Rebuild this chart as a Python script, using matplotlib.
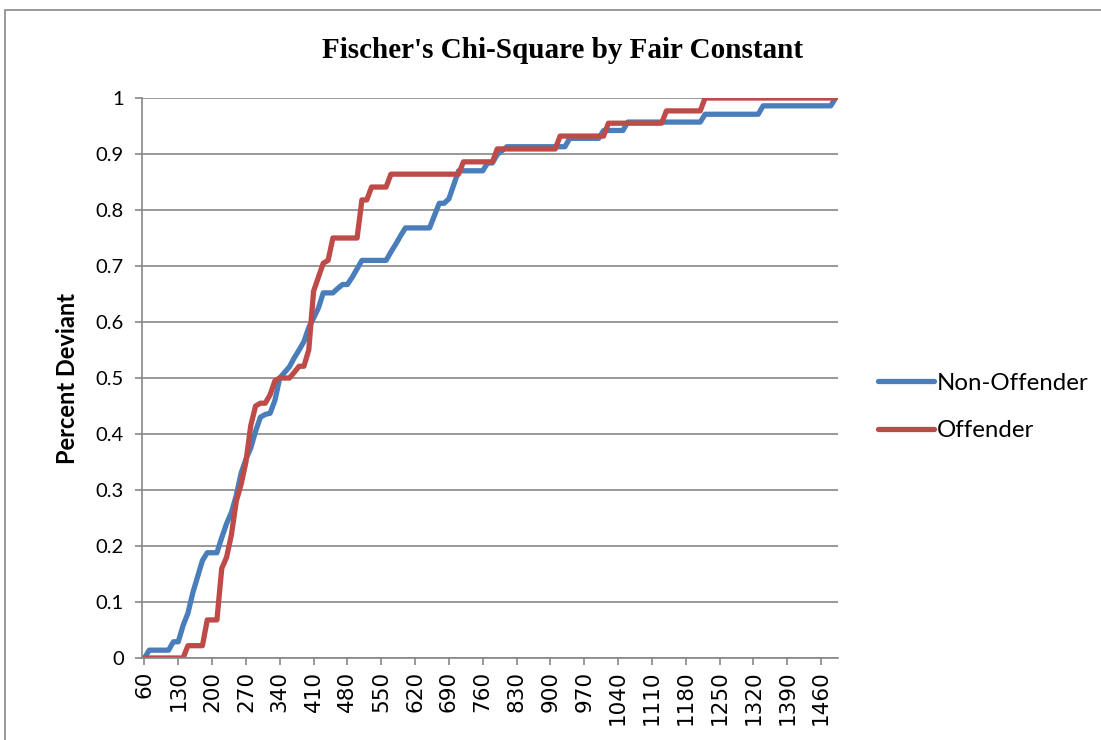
import matplotlib
matplotlib.use("Agg")
import matplotlib.pyplot as plt
from matplotlib.patches import Rectangle

# categories 60..1490 step 10, labels every 7th
categories = list(range(60, 1500, 10))

non_offender = [
    0, 0.014, 0.014, 0.014, 0.014, 0.014, 0.029, 0.029, 0.058, 0.08,
    0.116, 0.145, 0.174, 0.188, 0.188, 0.188, 0.215, 0.24, 0.26, 0.29,
    0.33, 0.355, 0.375, 0.405, 0.43, 0.435, 0.437, 0.46, 0.5, 0.51,
    0.52, 0.536, 0.55, 0.565, 0.59, 0.607, 0.625, 0.652, 0.652, 0.652,
    0.66, 0.667, 0.667, 0.68, 0.695, 0.71, 0.71, 0.71, 0.71, 0.71,
    0.71, 0.725, 0.739, 0.754, 0.768, 0.768, 0.768, 0.768, 0.768, 0.768,
    0.79, 0.812, 0.812, 0.82, 0.845, 0.87, 0.87, 0.87, 0.87, 0.87,
    0.87, 0.884, 0.884, 0.899, 0.906, 0.913, 0.913, 0.913, 0.913, 0.913,
    0.913, 0.913, 0.913, 0.913, 0.913, 0.913, 0.913, 0.913, 0.928, 0.928,
    0.928, 0.928, 0.928, 0.928, 0.928, 0.942, 0.942, 0.942, 0.942, 0.942,
    0.957, 0.957, 0.957, 0.957, 0.957, 0.957, 0.957, 0.957, 0.957, 0.957,
    0.957, 0.957, 0.957, 0.957, 0.957, 0.957, 0.971, 0.971, 0.971, 0.971,
    0.971, 0.971, 0.971, 0.971, 0.971, 0.971, 0.971, 0.971, 0.986, 0.986,
    0.986, 0.986, 0.986, 0.986, 0.986, 0.986, 0.986, 0.986, 0.986, 0.986,
    0.986, 0.986, 0.986, 1.0,
]

offender = [
    0, 0, 0, 0, 0, 0, 0, 0, 0, 0.022,
    0.022, 0.022, 0.022, 0.068, 0.068, 0.068, 0.16, 0.18, 0.22, 0.28,
    0.31, 0.35, 0.415, 0.45, 0.455, 0.455, 0.47, 0.495, 0.5, 0.5,
    0.5, 0.51, 0.521, 0.521, 0.55, 0.655, 0.68, 0.705, 0.71, 0.75,
    0.75, 0.75, 0.75, 0.75, 0.75, 0.818, 0.818, 0.841, 0.841, 0.841,
    0.841, 0.864, 0.864, 0.864, 0.864, 0.864, 0.864, 0.864, 0.864, 0.864,
    0.864, 0.864, 0.864, 0.864, 0.864, 0.864, 0.886, 0.886, 0.886, 0.886,
    0.886, 0.886, 0.886, 0.909, 0.909, 0.909, 0.909, 0.909, 0.909, 0.909,
    0.909, 0.909, 0.909, 0.909, 0.909, 0.909, 0.932, 0.932, 0.932, 0.932,
    0.932, 0.932, 0.932, 0.932, 0.932, 0.932, 0.955, 0.955, 0.955, 0.955,
    0.955, 0.955, 0.955, 0.955, 0.955, 0.955, 0.955, 0.955, 0.977, 0.977,
    0.977, 0.977, 0.977, 0.977, 0.977, 0.977, 1.0, 1.0, 1.0, 1.0,
    1.0, 1.0, 1.0, 1.0, 1.0, 1.0, 1.0, 1.0, 1.0, 1.0,
    1.0, 1.0, 1.0, 1.0, 1.0, 1.0, 1.0, 1.0, 1.0, 1.0,
    1.0, 1.0, 1.0, 1.0,
]

yticks = [0, 0.1, 0.2, 0.3, 0.4, 0.5, 0.6, 0.7, 0.8, 0.9, 1]
ytick_labels = ["0", "0.1", "0.2", "0.3", "0.4", "0.5", "0.6", "0.7", "0.8", "0.9", "1"]

plt.rcParams['font.family'] = ['Lato', 'DejaVu Sans']

fig = plt.figure(figsize=(11.01, 7.40), dpi=100)
ax = fig.add_axes([142 / 1101, 82 / 740, 696 / 1101, 560 / 740])

x = list(range(len(categories)))
ax.plot(x, non_offender, color='#4A7EBB', lw=3.8, label='Non-Offender',
        solid_joinstyle='round', solid_capstyle='round')
ax.plot(x, offender, color='#BE4B48', lw=3.8, label='Offender',
        solid_joinstyle='round', solid_capstyle='round')

ax.set_xlim(-0.5, len(categories) - 0.5)
ax.set_ylim(0, 1)

ax.set_yticks(yticks)
ax.set_yticklabels(ytick_labels, fontsize=14.5)
ax.yaxis.grid(True, color='#878787', lw=1.2)
ax.set_axisbelow(True)

xt = x[::7]
ax.set_xticks(xt)
ax.set_xticklabels([str(categories[i]) for i in xt], rotation=90,
                   fontsize=15.5, family='DejaVu Sans')

for s in ['top', 'right']:
    ax.spines[s].set_visible(False)
for s in ['left', 'bottom']:
    ax.spines[s].set_color('#878787')
    ax.spines[s].set_linewidth(1.2)
ax.tick_params(axis='y', length=5, color='#878787', width=1.2, pad=8)
ax.tick_params(axis='x', length=5, color='#878787', width=1.2, pad=4)

ax.set_ylabel('Percent Deviant', fontsize=17, fontweight='bold', labelpad=12)

fig.text(563 / 1101, 1 - 50 / 740, "Fischer's Chi-Square by Fair Constant",
         family='Liberation Serif', fontweight='bold', fontsize=21,
         ha='center', va='center')

ax.legend(loc='center left', bbox_to_anchor=(1.058, 0.448), frameon=False,
          fontsize=17.3, handlelength=2.3, handletextpad=0.13,
          labelspacing=1.1, borderpad=0, borderaxespad=0)

# outer chart border
fig.patches.append(Rectangle((5 / 1101, -0.5), 2, 1.5 - 10 / 740,
                             transform=fig.transFigure, fill=False,
                             edgecolor='#888888', lw=1.2))

fig.savefig('out.png', dpi=100)
